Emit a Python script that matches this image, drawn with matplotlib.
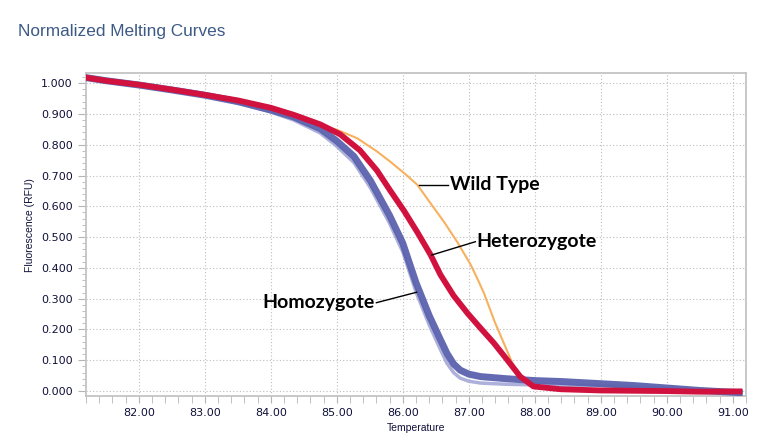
import matplotlib
matplotlib.use("Agg")
import matplotlib.pyplot as plt
from matplotlib.patches import Rectangle
from matplotlib.ticker import MultipleLocator, FormatStrFormatter

# temperatures / normalized RFU
homo_t = [81.2, 81.5, 82.0, 82.5, 83.0, 83.5, 84.0, 84.35, 84.75, 85.0, 85.26, 85.51, 85.8,
          86.0, 86.2, 86.4, 86.57, 86.67, 86.77, 86.87, 87.0, 87.18, 87.58, 88.0, 88.4, 89.0,
          89.5, 90.0, 90.5, 91.1]
homo_f = [1.018, 1.008, 0.994, 0.978, 0.961, 0.940, 0.913, 0.890, 0.852, 0.812, 0.762, 0.683, 0.570,
          0.480, 0.352, 0.245, 0.167, 0.122, 0.088, 0.068, 0.055, 0.047, 0.040, 0.034, 0.031, 0.024,
          0.018, 0.010, 0.002, -0.005]
homo_light_f = [1.018, 1.008, 0.994, 0.977, 0.958, 0.936, 0.906, 0.880, 0.838, 0.795, 0.742, 0.660, 0.545,
                0.452, 0.322, 0.215, 0.135, 0.090, 0.060, 0.042, 0.032, 0.026, 0.022, 0.020, 0.019, 0.018,
                0.014, 0.008, 0.001, -0.007]

het_t = [81.2, 81.5, 82.0, 82.5, 83.0, 83.5, 84.0, 84.35, 84.75, 85.05, 85.35, 85.61, 85.81,
         86.02, 86.22, 86.42, 86.57, 86.77, 86.98, 87.18, 87.38, 87.58, 87.78, 87.98, 88.39, 89.0,
         90.0, 90.5, 91.1]
het_f = [1.018, 1.008, 0.995, 0.979, 0.962, 0.944, 0.920, 0.897, 0.866, 0.834, 0.782, 0.716, 0.651,
         0.585, 0.516, 0.443, 0.378, 0.310, 0.253, 0.204, 0.156, 0.102, 0.047, 0.015, 0.006, 0.002,
         0.000, -0.002, -0.001]

wt_t = [81.2, 81.5, 82.0, 82.5, 83.0, 83.5, 84.0, 84.35, 84.70, 85.01, 85.31, 85.61, 85.81,
        86.02, 86.22, 86.42, 86.62, 86.82, 87.03, 87.13, 87.23, 87.40, 87.53, 87.66, 87.78, 87.88,
        88.0, 88.5, 89.0]
wt_f = [1.020, 1.008, 0.993, 0.976, 0.958, 0.938, 0.914, 0.893, 0.867, 0.848, 0.821, 0.778, 0.745,
        0.708, 0.670, 0.610, 0.551, 0.486, 0.410, 0.365, 0.318, 0.221, 0.156, 0.091, 0.047, 0.026,
        0.014, 0.004, 0.002]

fig = plt.figure(figsize=(7.79, 4.44), dpi=100)
ax = fig.add_axes([0.1104, 0.1081, 0.8472, 0.7275])

ax.plot(wt_t, wt_f, color='#f7b15e', lw=1.5, zorder=2, solid_joinstyle='round')
ax.plot(homo_t, homo_light_f, color='#a4a8d6', lw=2.5, alpha=0.9, zorder=3, solid_joinstyle='round')
ax.plot(homo_t, homo_f, color='#5b62ae', lw=5, alpha=0.95, zorder=4, solid_joinstyle='round')
ax.plot(het_t, het_f, color='#d1123f', lw=4.2, zorder=5, solid_joinstyle='round')

ax.set_xlim(81.2, 91.2)
ax.set_ylim(-0.016, 1.033)
ax.xaxis.set_major_locator(MultipleLocator(1))
ax.xaxis.set_minor_locator(MultipleLocator(0.2))
ax.yaxis.set_major_locator(MultipleLocator(0.1))
ax.yaxis.set_minor_locator(MultipleLocator(0.02))
ax.xaxis.set_major_formatter(FormatStrFormatter('%.2f'))
ax.yaxis.set_major_formatter(FormatStrFormatter('%.3f'))
ax.tick_params(which='both', direction='out', color='#b5b5b5', labelcolor='#10103a', labelsize=8)
ax.tick_params(axis='y', which='major', length=6)
ax.tick_params(axis='y', which='minor', length=3)
ax.tick_params(axis='x', which='both', length=5)
for s in ax.spines.values():
    s.set_color('#c4c4c4')
    s.set_linewidth(1.3)
ax.grid(True, which='major', color='#bdbdbd', lw=0.8, ls=(0, (1, 2)))
ax.set_axisbelow(True)

# annotations
ann = dict(fontsize=14, fontweight='bold', family=['Lato', 'DejaVu Sans'], color='black', va='center')
ax.plot([86.24, 86.68], [0.670, 0.670], color='black', lw=1, zorder=6)
ax.text(86.71, 0.672, 'Wild Type', ha='left', **ann)
ax.plot([86.44, 87.10], [0.442, 0.485], color='black', lw=1, zorder=6)
ax.text(87.12, 0.487, 'Heterozygote', ha='left', **ann)
ax.plot([85.60, 86.21], [0.287, 0.321], color='black', lw=1, zorder=6)
ax.text(85.58, 0.289, 'Homozygote', ha='right', **ann)

fig.text(0.0231, 0.928, 'Normalized Melting Curves', fontsize=12.4, color='#3c5a86',
         family='Liberation Sans', va='center', ha='left')
fig.text(0.0385, 0.493, 'Fluorescence (RFU)', rotation=90, fontsize=7.5, color='#10103a',
         family='Liberation Sans', va='center', ha='center')
fig.text(0.534, 1 - 423 / 444, 'Temperature', fontsize=7.5, color='#10103a',
         family='Liberation Sans', va='top', ha='center')
# bottom strip is blank in the original screenshot
fig.add_artist(Rectangle((0, 0), 1, 10 / 444, transform=fig.transFigure,
                         facecolor='white', edgecolor='none', zorder=10))

fig.savefig('out.png', dpi=100)
